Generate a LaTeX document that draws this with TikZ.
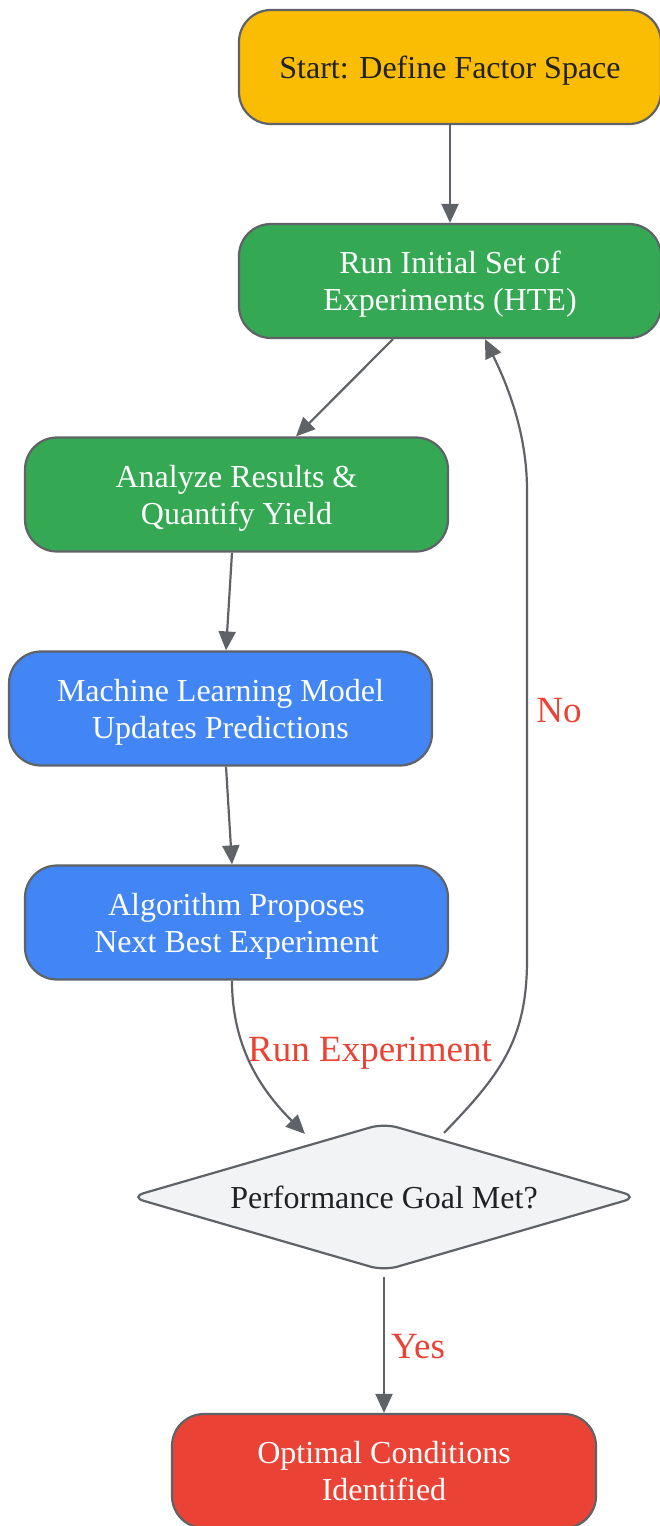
\documentclass[tikz,border=0pt]{standalone}
\usepackage{fontspec}
\setmainfont{Liberation Serif}
\usetikzlibrary{arrows.meta,shapes.geometric,calc}
\definecolor{gyellow}{HTML}{FBBC04}
\definecolor{ggreen}{HTML}{34A853}
\definecolor{gblue}{HTML}{4285F4}
\definecolor{gred}{HTML}{EA4335}
\definecolor{ggray}{HTML}{F1F3F4}
\definecolor{gstroke}{HTML}{5F6368}
\definecolor{gtext}{HTML}{202124}
\tikzset{
  box/.style={draw=gstroke, line width=2.2pt, rounded corners=32pt, minimum width=422pt, minimum height=114pt, align=center, inner sep=0pt, text depth=0pt, font=\fontsize{32}{37}\selectfont},
  dec/.style={draw=gstroke, line width=2.2pt, fill=ggray, shape=diamond, shape aspect=3.46, minimum width=508pt, minimum height=148pt, inner sep=0pt, rounded corners=14pt, text=gtext, text depth=0pt, font=\fontsize{32}{37}\selectfont},
  conn/.style={draw=gstroke, line width=2.2pt, -{Triangle[length=19pt,width=17pt]}},
  elabel/.style={text=gred, font=\fontsize{37}{42}\selectfont, inner sep=0pt}
}
\begin{document}
\begin{tikzpicture}[x=1pt,y=-1pt]
\useasboundingbox (0,0) rectangle (660,1526);
\node[box, fill=gyellow, text=gtext] (start) at (450,67) {Start: Define Factor Space};
\node[box, fill=ggreen, text=white] (run) at (450,281) {Run Initial Set of\\Experiments (HTE)};
\node[box, fill=ggreen, text=white, minimum width=423pt] (analyze) at (236.5,494.5) {Analyze Results \&\\Quantify Yield};
\node[box, fill=gblue, text=white, minimum width=423pt] (ml) at (220.5,708.5) {Machine Learning Model\\Updates Predictions};
\node[box, fill=gblue, text=white, minimum width=423pt] (algo) at (236.5,922.5) {Algorithm Proposes\\Next Best Experiment};
\node[dec] (goal) at (384,1197) {Performance Goal Met?};
\node[box, fill=gred, text=white, minimum width=424pt] (opt) at (384,1471) {Optimal Conditions\\Identified};

\draw[conn] (start.south) -- (run.north);
\draw[conn] ($(run.south)+(-57,0)$) -- ($(analyze.north)+(59.5,0)$);
\draw[conn] ($(analyze.south)+(-4.5,0)$) -- ($(ml.north)+(5.5,0)$);
\draw[conn] ($(ml.south)+(5.5,0)$) -- ($(algo.north)+(-4.5,0)$);
\draw[conn] ($(algo.south)+(-4.5,0)$) .. controls ($(algo.south)+(-4.5,70)$) and ($(algo.south)+(28,113)$) .. ($(goal.north)+(-79,12)$);
\coordinate (nomid1) at (527,960);
\coordinate (nomid2) at (527,490);
\draw[conn] ($(goal.north)+(60,11)$) .. controls (500,1075) and (527,1040) .. (nomid1) -- (nomid2) .. controls (527,430) and (505,380) .. ($(run.south)+(35,0)$);
\draw[conn] ($(goal.south)+(0,5)$) -- (opt.north);

\node[elabel] (lrun) at (370,1053) {Run Experiment};
\node[elabel] (lno) at (559,711) {No};
\node[elabel] (lyes) at (418,1347) {Yes};
\end{tikzpicture}
\end{document}
